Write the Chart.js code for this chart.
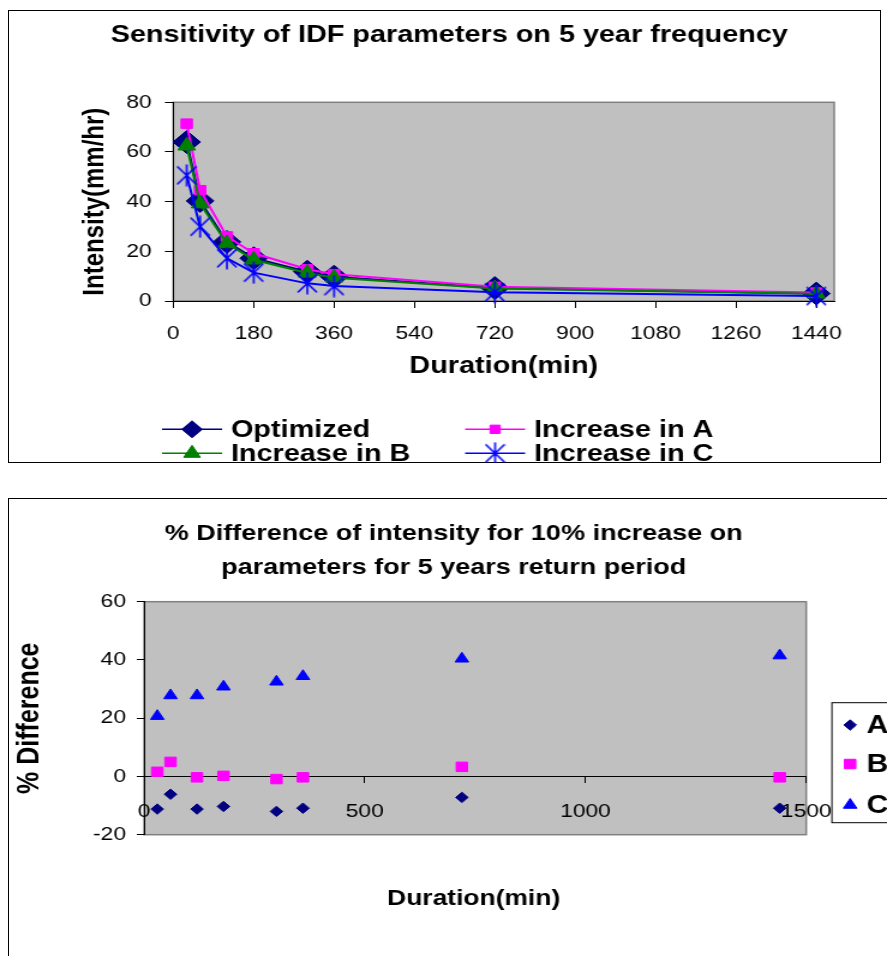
<!DOCTYPE html>
<html>
<head>
<meta charset="utf-8">
<title>IDF sensitivity</title>
<script src="https://cdn.jsdelivr.net/npm/chart.js@4.4.0/dist/chart.umd.min.js"></script>
<style>
  html, body { margin: 0; padding: 0; background: #fff; width: 887px; height: 956px; overflow: hidden; }
  .frame { position: absolute; border: 1px solid #000; box-sizing: border-box; }
  canvas { position: absolute; left: 0; }
</style>
</head>
<body>
<div class="frame" style="left:8px;top:10px;width:873px;height:453px"></div>
<div class="frame" style="left:8px;top:498px;width:900px;height:480px"></div>
<!-- charts are laid out at 739px and widened to 887px on screen -->
<canvas id="idf"  width="739" height="463" style="top:0;width:887px;height:463px"></canvas>
<canvas id="diff" width="739" height="458" style="top:498px;width:887px;height:458px"></canvas>

<script>
// ---- data ---------------------------------------------------------------
const DURATION_MIN = [30, 60, 120, 180, 300, 360, 720, 1440];

// intensity (mm/hr), 5 year return period
const OPTIMIZED  = [64.0, 40.3, 23.8, 17.2, 11.8, 9.8, 5.2, 3.0];
const INCREASE_A = [71.4, 44.6, 26.0, 19.2, 12.8, 10.8, 5.7, 3.4];
const INCREASE_B = [62.5, 39.2, 23.2, 16.6, 11.3, 9.4, 5.0, 2.9];
const INCREASE_C = [50.6, 29.9, 17.2, 11.4, 7.1, 6.0, 3.5, 2.0];

// % difference of intensity for a 10% increase of each parameter
const PCT_A = [-11.2, -6.1, -11.2, -10.3, -12.0, -10.9, -7.2, -10.9];
const PCT_B = [1.6, 5.0, -0.3, 0.2, -0.9, -0.3, 3.3, -0.3];
const PCT_C = [20.7, 27.8, 27.8, 30.8, 32.5, 34.4, 40.4, 41.5];

const IDF_X_TICKS  = [0, 180, 360, 540, 720, 900, 1080, 1260, 1440];
const IDF_Y_TICKS  = [0, 20, 40, 60, 80];
const DIFF_X_TICKS = [0, 500, 1000, 1500];
const DIFF_Y_TICKS = [-20, 0, 20, 40, 60];

// ---- shared bits ----------------------------------------------------------
const FONT = "Arial, 'Liberation Sans', sans-serif";
const TICK_FONT = { family: FONT, size: 19 };
const NAVY = '#000080', MAGENTA = '#FF00FF', GREEN = '#008000', BLUE = '#0000FF';

function asteriskMark(w, h, color) {
  const c = document.createElement('canvas');
  c.width = w; c.height = h;
  const g = c.getContext('2d');
  g.strokeStyle = color;
  g.lineWidth = 1.6;
  g.beginPath();
  g.moveTo(w / 2, 0.5);  g.lineTo(w / 2, h - 0.5);
  g.moveTo(1, 2.5);      g.lineTo(w - 1, h - 2.5);
  g.moveTo(w - 1, 2.5);  g.lineTo(1, h - 2.5);
  g.stroke();
  return c;
}
const ASTERISK = asteriskMark(18, 23, BLUE);

const toPoints = ys => DURATION_MIN.map((x, i) => ({ x, y: ys[i] }));
const fixedTicks = list => scale => { scale.ticks = list.map(value => ({ value })); };

function series(label, ys, color, style, radius, order) {
  return {
    label, data: toPoints(ys), order,
    borderColor: color, backgroundColor: color,
    pointBackgroundColor: color, pointBorderColor: color,
    pointStyle: style, pointRadius: radius, pointBorderWidth: 1,
    borderWidth: 2, tension: 0, clip: false,
  };
}

function axis(ticks, min, max, tickLength, padding) {
  return {
    type: 'linear', min, max,
    afterBuildTicks: fixedTicks(ticks),
    grid: { drawOnChartArea: false, drawTicks: true, tickLength, color: '#000', lineWidth: 1 },
    border: { display: true, color: '#000', width: 1 },
    ticks: { color: '#000', font: TICK_FONT, padding, maxRotation: 0, autoSkip: false, callback: v => String(v) },
  };
}

// grey plot area with a thin grey frame
const plotBackdrop = {
  id: 'plotBackdrop',
  beforeDraw(chart) {
    const { ctx, chartArea: a } = chart;
    ctx.save();
    ctx.fillStyle = '#C0C0C0';
    ctx.fillRect(a.left, a.top, a.width, a.height);
    ctx.strokeStyle = '#808080';
    ctx.lineWidth = 1.5;
    ctx.strokeRect(a.left, a.top, a.width, a.height);
    ctx.restore();
  }
};

// free-standing text: chart titles and the odd axis title
const chartText = {
  id: 'chartText',
  afterDraw(chart, args, opts) {
    const ctx = chart.ctx;
    ctx.save();
    ctx.fillStyle = '#000';
    ctx.textBaseline = 'middle';
    ctx.textAlign = 'center';
    (opts.lines || []).forEach(l => {
      ctx.font = l.font;
      ctx.fillText(l.text, l.x, l.y);
    });
    ctx.restore();
  }
};

// legend keyed to the datasets, one slot per dataset
const keyLegend = {
  id: 'keyLegend',
  afterDraw(chart, args, opts) {
    const ctx = chart.ctx;
    const sets = chart.data.datasets;
    ctx.save();
    if (opts.box) {
      const b = opts.box;
      ctx.fillStyle = '#fff';
      ctx.fillRect(b.x, b.y, b.w, b.h);
      ctx.strokeStyle = '#000';
      ctx.lineWidth = 1;
      ctx.strokeRect(b.x, b.y, b.w, b.h);
    }
    opts.slots.forEach((s, i) => {
      const ds = sets[i];
      if (opts.lineHalf) {
        ctx.strokeStyle = ds.borderColor;
        ctx.lineWidth = 1.6;
        ctx.beginPath();
        ctx.moveTo(s.x - opts.lineHalf, s.y);
        ctx.lineTo(s.x + opts.lineHalf, s.y);
        ctx.stroke();
      }
      ctx.fillStyle = ds.pointBackgroundColor;
      ctx.strokeStyle = ds.pointBorderColor;
      ctx.lineWidth = 1;
      const r = (opts.radius && opts.radius[i]) || ds.pointRadius;
      Chart.helpers.drawPoint(ctx, { pointStyle: ds.pointStyle, radius: r, borderWidth: 1, rotation: 0 }, s.x, s.y);
      ctx.fillStyle = '#000';
      ctx.font = opts.font;
      ctx.textAlign = 'left';
      ctx.textBaseline = 'middle';
      ctx.fillText(ds.label, s.x + opts.gap, s.y + 1);
    });
    ctx.restore();
  }
};

const BOLD = px => `bold ${px}px ${FONT}`;

// ---- intensity vs duration ----------------------------------------------------
const idfX = axis(IDF_X_TICKS, 0, 1480, 7, 14);
idfX.afterFit = s => { s.height = 162; };
idfX.title = { display: true, text: 'Duration(min)', color: '#000',
               font: { family: FONT, size: 24, weight: 'bold' }, padding: { top: 0, bottom: 82.6 } };

const idfY = axis(IDF_Y_TICKS, 0, 80, 7, 11);
idfY.afterFit = s => { s.width = 144.4; };
idfY.title = { display: true, text: 'Intensity(mm/hr)', color: '#000',
               font: { family: FONT, size: 24, weight: 'bold' }, padding: { top: 64.8, bottom: 0 } };

new Chart(document.getElementById('idf'), {
  type: 'line',
  data: {
    datasets: [
      series('Optimized',     OPTIMIZED,  NAVY,    'rectRot',  11.5, 4),
      series('Increase in A', INCREASE_A, MAGENTA, 'rect',     6.7,  3),
      series('Increase in B', INCREASE_B, GREEN,   'triangle', 8.5,  2),
      series('Increase in C', INCREASE_C, BLUE,    ASTERISK,   9,    1),
    ]
  },
  options: {
    responsive: false, devicePixelRatio: 1, animation: false, events: [],
    layout: { padding: { left: 0, top: 102.3, right: 44, bottom: 0 } },
    scales: { x: idfX, y: idfY },
    plugins: {
      legend: { display: false }, tooltip: { enabled: false }, title: { display: false },
      chartText: { lines: [
        { text: 'Sensitivity of IDF parameters on 5 year frequency', x: 374.3, y: 35, font: BOLD(24) },
      ] },
      keyLegend: {
        font: BOLD(24), gap: 32.4, lineHalf: 25,
        radius: [8.5, 5.9, 8, 9],
        slots: [ { x: 160, y: 429.3 }, { x: 412.5, y: 429.3 }, { x: 160, y: 453.3 }, { x: 412.5, y: 453.3 } ],
      },
    }
  },
  plugins: [plotBackdrop, chartText, keyLegend]
});

// ---- % difference scatter ----------------------------------------------------------
const diffX = axis(DIFF_X_TICKS, 0, 1500, 6, 18.3);
diffX.position = { y: 0 };

const diffY = axis(DIFF_Y_TICKS, -20, 60, 6, 9);
diffY.afterFit = s => { s.width = 120; };
diffY.title = { display: true, text: '% Difference', color: '#000',
                font: { family: FONT, size: 25, weight: 'bold' }, padding: { top: 10.3, bottom: 0 } };

const dot = (label, ys, color, style, radius, order) =>
  Object.assign(series(label, ys, color, style, radius, order), { showLine: false });

new Chart(document.getElementById('diff'), {
  type: 'scatter',
  data: {
    datasets: [
      dot('A', PCT_A, NAVY,    'rectRot',  5.2, 3),
      dot('B', PCT_B, MAGENTA, 'rect',     6.7, 2),
      dot('C', PCT_C, BLUE,    'triangle', 6.5, 1),
    ]
  },
  options: {
    responsive: false, devicePixelRatio: 1, animation: false, events: [],
    layout: { padding: { left: 0, top: 103.7, right: 67.3, bottom: 121.3 } },
    scales: { x: diffX, y: diffY },
    plugins: {
      legend: { display: false }, tooltip: { enabled: false }, title: { display: false },
      chartText: { lines: [
        { text: '% Difference of intensity for 10% increase on', x: 378, y: 36, font: BOLD(22.5) },
        { text: 'parameters for 5 years return period', x: 378, y: 70, font: BOLD(22.5) },
        { text: 'Duration(min)', x: 394.6, y: 401, font: BOLD(22) },
      ] },
      keyLegend: {
        font: BOLD(25), gap: 13.7,
        box: { x: 693.1, y: 204.7, w: 60, h: 120 },
        slots: [ { x: 708.3, y: 227 }, { x: 708.3, y: 266 }, { x: 708.3, y: 307 } ],
      },
    }
  },
  plugins: [plotBackdrop, chartText, keyLegend]
});
</script>
</body>
</html>
